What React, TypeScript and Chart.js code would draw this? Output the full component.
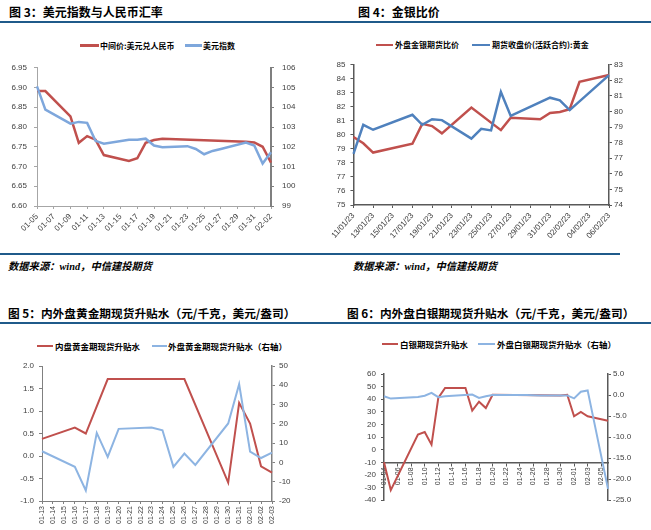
import React, { useEffect, useRef } from 'react';
import { Chart, registerables } from 'chart.js';

Chart.register(...registerables);

// ---------- 图3 data ----------
const days3 = ['01-05','01-06','01-07','01-08','01-09','01-10','01-11','01-12','01-13','01-14','01-15','01-16','01-17','01-18','01-19','01-20','01-21','01-22','01-23','01-24','01-25','01-26','01-27','01-28','01-29','01-30','01-31','02-01','02-02'];
const cnyMid3 = [6.891, 6.891, null, null, 6.827, 6.760, 6.777, 6.768, 6.729, null, null, 6.714, 6.721, 6.760, 6.767, 6.770, null, null, null, null, null, null, null, null, null, 6.763, 6.761, 6.750, 6.710];
const dxy3 = [105.06, 103.88, null, null, 103.17, 103.26, 103.21, 102.3, 102.16, null, null, 102.36, 102.36, 102.41, 102.06, 101.98, null, null, 102.03, 101.89, 101.62, 101.79, 101.89, null, null, 102.21, 102.06, 101.15, 101.72];

// ---------- 图4 data ----------
const days4 = ['11/01/23','12/01/23','13/01/23','14/01/23','15/01/23','16/01/23','17/01/23','18/01/23','19/01/23','20/01/23','21/01/23','22/01/23','23/01/23','24/01/23','25/01/23','26/01/23','27/01/23','28/01/23','29/01/23','30/01/23','31/01/23','01/02/23','02/02/23','03/02/23','04/02/23','05/02/23','06/02/23'];
const gsRatio4 = [79.85, 79.40, 78.74, null, null, null, 79.37, 80.79, 80.63, 80.11, null, null, 81.95, null, null, 80.34, 81.22, null, null, 81.12, 81.57, 81.64, 81.83, 83.79, null, null, 84.27];
const goldClose4 = [77.28, 79.15, 78.83, null, null, null, 79.79, 79.15, 79.51, 79.45, null, null, 78.26, 78.89, 78.79, 81.26, 79.72, null, null, null, 80.89, 80.72, 80.09, null, null, null, 82.34];

// ---------- 图5 data ----------
const days5 = ['01-13','01-14','01-15','01-16','01-17','01-18','01-19','01-20','01-21','01-22','01-23','01-24','01-25','01-26','01-27','01-28','01-29','01-30','01-31','02-01','02-02','02-03'];
const domGold5 = [0.38, null, null, 0.63, 0.50, null, 1.71, null, null, null, null, null, null, 1.71, null, null, null, -0.59, 1.18, 0.72, -0.23, -0.37];
const extGold5 = [5.8, null, null, -2.3, -14.5, 15.3, 2.9, 17.4, null, null, 18.1, 16.7, -2.3, 4.6, -1.3, null, null, 20.2, 40.6, 5.6, 2.3, 5.1];

// ---------- 图6 data ----------
const days6 = ['01-04','01-05','01-06','01-07','01-08','01-09','01-10','01-11','01-12','01-13','01-14','01-15','01-16','01-17','01-18','01-19','01-20','01-21','01-22','01-23','01-24','01-25','01-26','01-27','01-28','01-29','01-30','01-31','02-01','02-02','02-03','02-04','02-05','02-06'];
const silver6 = [-10, -32, null, null, null, 12, 14, 4, 41, 49, null, null, 49, 31, 38, 33, 43.5, null, null, null, null, null, null, null, null, null, 43, 43.5, 26.5, 30, 26.5, null, null, 23];
const extSilver6 = [-0.3, -0.85, null, null, null, -0.45, -0.15, 0.5, -0.5, -0.3, null, null, null, 0.1, -0.7, -0.3, 0.0, null, null, 0.0, 0.0, 0.0, -0.05, -0.1, null, null, -0.1, -0.1, -0.8, 0.8, 1.1, null, null, -22.3];

const RED = '#C0504D';
const BLUE_L = '#7EA7DC';
const BLUE_D = '#4F81BD';
const BLUE_P = '#8DB4E2';
const TICK = '#404040';
const NAVY = '#1F5A8A';
const FONT_CJK = '"Noto Sans CJK SC", "Noto Sans", sans-serif';

Chart.defaults.font.family = '"Liberation Sans", Arial, sans-serif';

function yAxis(pos: 'left' | 'right', min: number, max: number, step: number, dec: number, width: number, pad: number, color: string, lw: number) {
  return {
    type: 'linear',
    position: pos,
    min, max,
    afterFit: (sc: any) => { sc.width = width; },
    ticks: {
      stepSize: step, padding: pad, color: TICK, font: { size: 8 }, autoSkip: false,
      callback: (v: any) => Number(v).toFixed(dec),
    },
    grid: { display: true, drawOnChartArea: false, drawTicks: true, tickLength: 3, color, lineWidth: 1 },
    border: { display: true, color, width: lw },
  };
}

function xAxis(o: { height?: number; rotation: number; every: number; color: string; lw: number; size: number; pad: number; position?: any }) {
  return {
    type: 'category',
    offset: false,
    position: o.position ?? 'bottom',
    afterFit: (sc: any) => { if (o.height != null) sc.height = o.height; },
    ticks: {
      autoSkip: false, minRotation: o.rotation, maxRotation: o.rotation, padding: o.pad,
      font: { size: o.size }, color: TICK,
      callback: function (this: any, v: any, i: number) { return i % o.every === 0 ? this.getLabelForValue(v) : null; },
    },
    grid: { display: true, drawOnChartArea: false, drawTicks: true, tickLength: 3, color: o.color, lineWidth: 1 },
    border: { display: true, color: o.color, width: o.lw },
  };
}

function ds(label: string, data: any[], color: string, width: number, axis: string, order: number) {
  return {
    label, data, borderColor: color, backgroundColor: color, borderWidth: width,
    pointRadius: 0, pointHoverRadius: 0, tension: 0, spanGaps: true, fill: false,
    yAxisID: axis, order,
  };
}

function makeConfig(labels: string[], datasets: any[], scales: any, padding: any) {
  return {
    type: 'line',
    data: { labels, datasets },
    options: {
      responsive: false,
      animation: false,
      devicePixelRatio: 1,
      layout: { padding },
      plugins: { legend: { display: false }, tooltip: { enabled: false } },
      scales,
    },
  };
}

function ChartBox({ left, top, width, height, config }: any) {
  const ref = useRef<HTMLCanvasElement>(null);
  useEffect(() => {
    const chart = new Chart(ref.current as HTMLCanvasElement, config as any);
    return () => chart.destroy();
  }, []);
  return <canvas ref={ref} width={width} height={height} style={{ position: 'absolute', left, top, width, height }} />;
}

function Text({ x, y, size, bold, italic, children, color }: any) {
  return (
    <div style={{ position: 'absolute', left: x, top: y - 10, height: 20, lineHeight: '20px', fontSize: size, fontWeight: bold ? 700 : 400, fontStyle: italic ? 'italic' : 'normal', fontFamily: FONT_CJK, color: color ?? '#000', whiteSpace: 'nowrap' }}>
      {children}
    </div>
  );
}

function Seg({ x1, x2, y, color, w }: any) {
  return <div style={{ position: 'absolute', left: x1, top: y - w / 2, width: x2 - x1, height: w, background: color }} />;
}

function Rule({ x1, x2, y }: any) {
  return <div style={{ position: 'absolute', left: x1, top: y - 1, width: x2 - x1, height: 2, background: NAVY }} />;
}

function Footer({ x }: any) {
  return (
    <div style={{ position: 'absolute', left: x, top: 256, height: 20, lineHeight: '20px', fontSize: 10.3, fontWeight: 700, fontStyle: 'italic', fontFamily: FONT_CJK, color: '#000', whiteSpace: 'nowrap' }}>
      数据来源：<span style={{ fontFamily: '"Liberation Serif", serif' }}>wind</span>，中信建投期货
    </div>
  );
}

const cfg3 = makeConfig(days3, [
  ds('中间价:美元兑人民币', cnyMid3, RED, 2.5, 'y', 1),
  ds('美元指数', dxy3, BLUE_L, 2.5, 'y1', 0),
], {
  x: xAxis({ height: 49, rotation: 45, every: 2, color: '#A6A6A6', lw: 1, size: 8, pad: 3 }),
  y: yAxis('left', 6.6, 6.95, 0.05, 2, 37, 7, '#A6A6A6', 1),
  y1: yAxis('right', 99, 106, 1, 0, 59, 8, '#7F7F7F', 2),
}, { top: 12, left: 0, right: 0, bottom: 0 });

const cfg4 = makeConfig(days4, [
  ds('外盘金银期货比价', gsRatio4, RED, 2.5, 'y', 1),
  ds('期货收盘价(活跃合约):黄金', goldClose4, BLUE_D, 2.5, 'y1', 0),
], {
  x: xAxis({ height: 50, rotation: 48, every: 2, color: '#595959', lw: 1.5, size: 8, pad: 3 }),
  y: yAxis('left', 75, 85, 1, 0, 20, 5, '#595959', 1.5),
  y1: yAxis('right', 74, 83, 1, 0, 42, 2, '#595959', 1.5),
}, { top: 9, left: 0, right: 0, bottom: 0 });

const cfg5 = makeConfig(days5, [
  ds('内盘黄金期现货升贴水', domGold5, RED, 2, 'y', 1),
  ds('外盘黄金期现货升贴水（右轴）', extGold5, BLUE_P, 2, 'y1', 0),
], {
  x: xAxis({ height: 29, rotation: 90, every: 1, color: '#808080', lw: 1, size: 7, pad: 2 }),
  y: yAxis('left', -1, 2, 0.5, 1, 42, 5, '#808080', 1),
  y1: yAxis('right', -20, 50, 10, 0, 58, 4, '#808080', 1.5),
}, { top: 11, left: 0, right: 0, bottom: 0 });

const cfg6 = makeConfig(days6, [
  ds('白银期现货升贴水', silver6, RED, 2, 'y', 1),
  ds('外盘白银期现货升贴水（右轴）', extSilver6, BLUE_P, 2, 'y1', 0),
], {
  x: xAxis({ rotation: 90, every: 2, color: '#595959', lw: 1.5, size: 7, pad: 2, position: { y: -10 } }),
  y: yAxis('left', -40, 60, 10, 0, 54, 5, '#595959', 1.5),
  y1: yAxis('right', -25, 5, 5, 1, 43, 2, '#595959', 1.5),
}, { top: 14, left: 0, right: 0, bottom: 8 });

export default function App() {
  return (
    <div style={{ position: 'absolute', left: 0, top: 0, width: 651, height: 530, background: '#fff', overflow: 'hidden' }}>
      <Text x={9} y={12} size={12} bold>图 3：美元指数与人民币汇率</Text>
      <Text x={358} y={12} size={12} bold>图 4：金银比价</Text>
      <Rule x1={0} x2={651} y={21.5} />

      <Seg x1={80} x2={99} y={45.7} color={RED} w={2.5} />
      <Text x={100} y={45.7} size={8} bold>中间价:美元兑人民币</Text>
      <Seg x1={185} x2={202} y={45.7} color={BLUE_L} w={2.5} />
      <Text x={203} y={45.7} size={8} bold>美元指数</Text>

      <Seg x1={376} x2={393} y={45} color={RED} w={2.5} />
      <Text x={395} y={45} size={8} bold>外盘金银期货比价</Text>
      <Seg x1={472} x2={490} y={45} color={BLUE_D} w={2.5} />
      <Text x={492} y={45} size={8} bold>期货收盘价(活跃合约):黄金</Text>

      <ChartBox left={0} top={55} width={330} height={200} config={cfg3} />
      <ChartBox left={330} top={55} width={321} height={200} config={cfg4} />

      <Rule x1={0} x2={620} y={254} />
      <Footer x={8} />
      <Footer x={353} />

      <Text x={8} y={313} size={11.7} bold>图 5：内外盘黄金期现货升贴水（元/千克，美元/盎司）</Text>
      <Text x={347} y={313} size={11.7} bold>图 6：内外盘白银期现货升贴水（元/千克，美元/盎司）</Text>
      <Rule x1={0} x2={651} y={323} />

      <Seg x1={37} x2={53} y={346} color={RED} w={2.5} />
      <Text x={55} y={346} size={8.5} bold>内盘黄金期现货升贴水</Text>
      <Seg x1={152} x2={167} y={346} color={BLUE_P} w={2.5} />
      <Text x={168} y={346} size={8.5} bold>外盘黄金期现货升贴水（右轴）</Text>

      <Seg x1={382} x2={398} y={344} color={RED} w={2.5} />
      <Text x={400} y={344} size={8.5} bold>白银期现货升贴水</Text>
      <Seg x1={478} x2={495} y={344} color={BLUE_P} w={2.5} />
      <Text x={497} y={344} size={8.5} bold>外盘白银期现货升贴水（右轴）</Text>

      <ChartBox left={0} top={355} width={330} height={175} config={cfg5} />
      <ChartBox left={330} top={360} width={321} height={150} config={cfg6} />
    </div>
  );
}
